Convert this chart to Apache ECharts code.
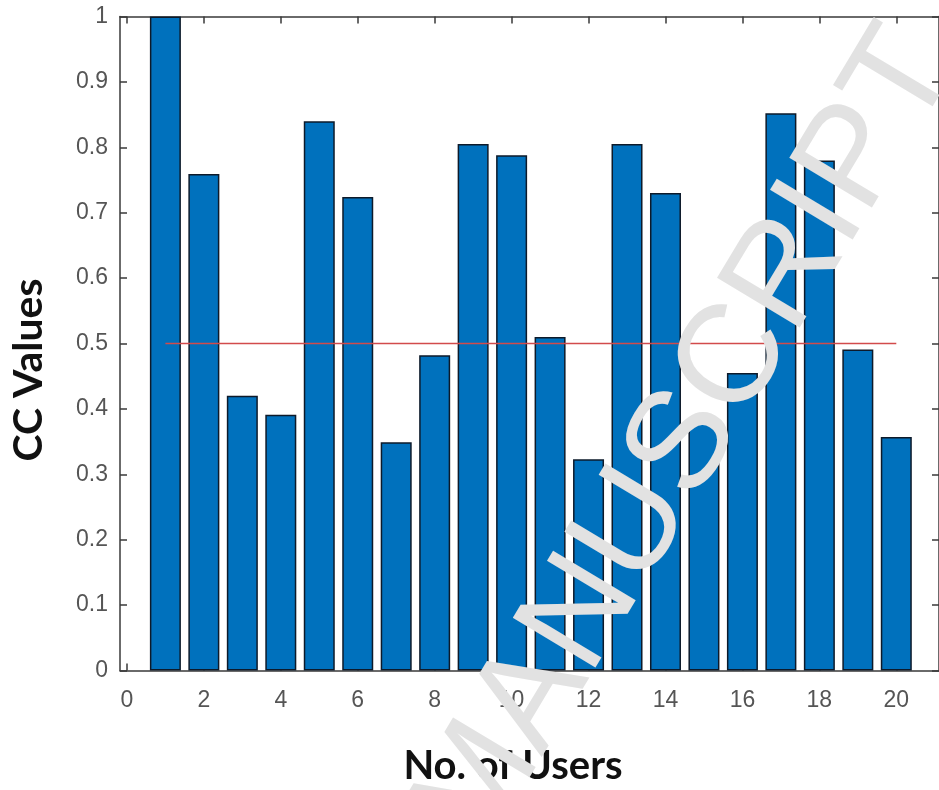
<!DOCTYPE html>
<html>
<head>
<meta charset="utf-8">
<script src="https://cdn.jsdelivr.net/npm/echarts@6/dist/echarts.min.js"></script>
<style>
html,body{margin:0;padding:0;background:#fff;}
#chart{width:939px;height:790px;}
</style>
</head>
<body>
<div id="chart"></div>
<script>
// ---- data ----
const users = [1,2,3,4,5,6,7,8,9,10,11,12,13,14,15,16,17,18,19,20];
const ccValues = [1.0,0.759,0.420,0.391,0.840,0.724,0.349,0.482,0.805,0.788,0.510,0.323,0.805,0.730,0.380,0.455,0.852,0.780,0.491,0.357];
const thresholdX = [1, 20];
const thresholdY = [0.5, 0.5];
const xTickValues = [0,2,4,6,8,10,12,14,16,18,20];
const xTitle = 'No. of Users';
const yTitle = 'CC Values';
const watermark = 'ACCEPTED MANUSCRIPT';

const barData = users.map((u,i)=>[u, ccValues[i]]);
const lineData = thresholdX.map((x,i)=>[x, thresholdY[i]]);

const axisColor = '#3a3a3a';
const labelColor = '#555555';
const tickFont = 'Liberation Sans, Arial, sans-serif';
const titleFont = 'Lato, "Open Sans", sans-serif';

const chart = echarts.init(document.getElementById('chart'), null, {renderer:'canvas'});
const theta = 59 * Math.PI / 180;
chart.setOption({
  backgroundColor:'#ffffff',
  animation:false,
  grid:{left:120, top:16.5, width:821, height:654, containLabel:false},
  xAxis:[{
    type:'value', min:-0.18, max:21.11, position:'bottom',
    axisLine:{show:true, onZero:false, lineStyle:{color:axisColor, width:1.5}},
    axisTick:{show:true, inside:true, length:7, customValues:xTickValues, lineStyle:{color:axisColor, width:1.5}},
    axisLabel:{show:true, customValues:xTickValues, margin:19, color:labelColor, fontSize:23, fontFamily:tickFont},
    splitLine:{show:false}
  },{
    type:'value', min:-0.18, max:21.11, position:'top',
    axisLine:{show:true, onZero:false, lineStyle:{color:axisColor, width:1.5}},
    axisTick:{show:true, inside:true, length:7, customValues:xTickValues, lineStyle:{color:axisColor, width:1.5}},
    axisLabel:{show:false},
    splitLine:{show:false}
  }],
  yAxis:[{
    type:'value', min:0, max:1, interval:0.1, position:'left',
    axisLine:{show:true, onZero:false, lineStyle:{color:axisColor, width:1.5}},
    axisTick:{show:true, inside:true, length:7, lineStyle:{color:axisColor, width:1.5}},
    axisLabel:{show:true, margin:12, color:labelColor, fontSize:23, fontFamily:tickFont,
      formatter:v=>String(+v.toFixed(1))},
    splitLine:{show:false}
  },{
    type:'value', min:0, max:1, interval:0.1, position:'right',
    axisLine:{show:true, onZero:false, lineStyle:{color:axisColor, width:1.5}},
    axisTick:{show:true, inside:true, length:7, lineStyle:{color:axisColor, width:1.5}},
    axisLabel:{show:false},
    splitLine:{show:false}
  }],
  series:[{
    type:'bar', xAxisIndex:0, yAxisIndex:0, data:barData, barWidth:31,
    itemStyle:{color:'#0071BD', borderColor:'#0d1a2a', borderWidth:1.5},
    z:2
  },{
    type:'line', xAxisIndex:0, yAxisIndex:0, data:lineData, symbol:'none',
    lineStyle:{color:'#d24b4b', width:1.6}, z:3
  }],
  graphic:[{
    type:'text', silent:true, z:50,
    x:513, y:766,
    style:{text:xTitle, fill:'#111', font:'bold 40px ' + titleFont, textAlign:'center', textVerticalAlign:'middle'}
  },{
    type:'text', silent:true, z:50,
    x:29, y:370, rotation:Math.PI/2,
    style:{text:yTitle, fill:'#111', font:'bold 41px ' + titleFont, textAlign:'center', textVerticalAlign:'middle'}
  },{
    type:'text', silent:true, z:100,
    x:925, y:44, rotation:theta,
    style:{text:watermark, fill:'#e2e2e2', font:'140px "Liberation Sans", Arial, sans-serif',
      textAlign:'right', textVerticalAlign:'middle'}
  }]
});
</script>
</body>
</html>
